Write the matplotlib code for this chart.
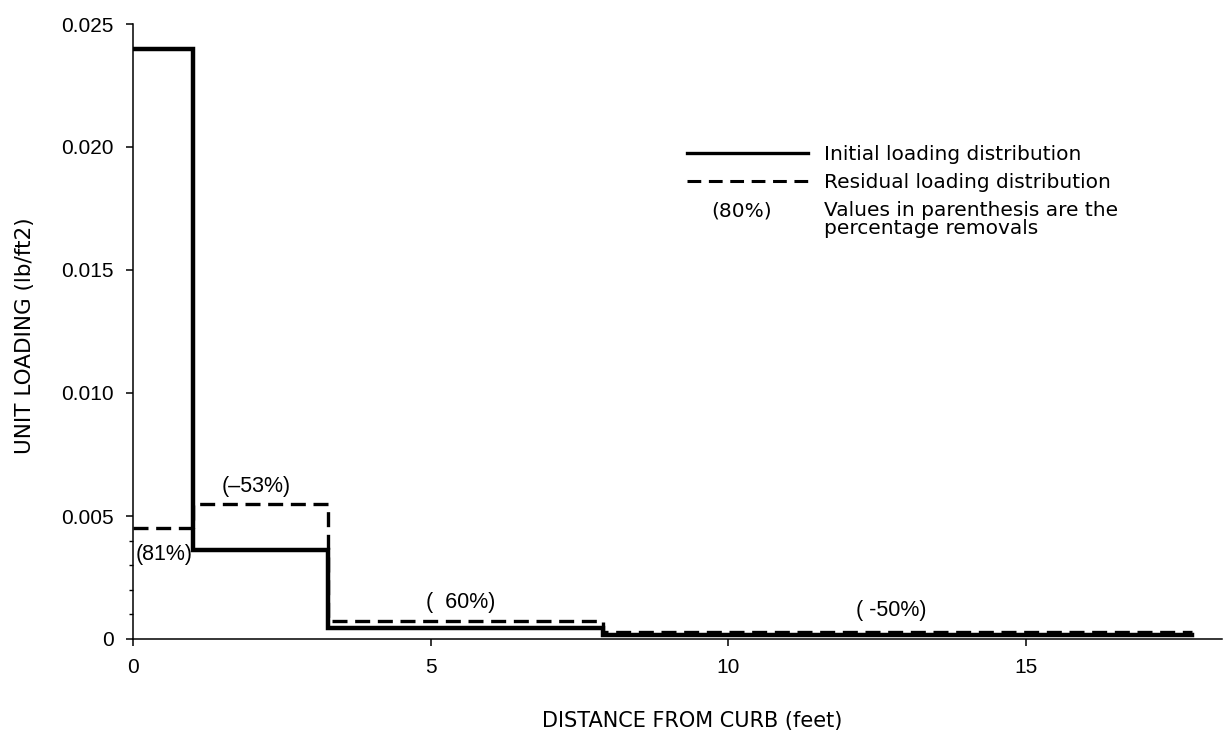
import matplotlib
matplotlib.use("Agg")
import matplotlib.pyplot as plt
from matplotlib.lines import Line2D

plt.rcParams['font.family'] = ['Liberation Sans', 'DejaVu Sans']

# Data
edges = [0.0, 1.0, 3.27, 7.9, 17.8]
initial = [0.024, 0.0036, 0.00045, 0.00015]
residual = [0.0045, 0.0055, 0.00072, 0.0003]
removal_labels = ['(81%)', '(\u201353%)', '(  60%)', '( -50%)']
xticks = [0, 5, 10, 15]
yticks = [0, 0.005, 0.010, 0.015, 0.020, 0.025]
ytick_labels = ['0', '0.005', '0.010', '0.015', '0.020', '0.025']

W, H = 1225, 731
fig = plt.figure(figsize=(W/100, H/100), dpi=100)
ax = fig.add_axes([133/W, 1-639/H, (1222-133)/W, (639-24)/H])

ax.step(edges, initial + [initial[-1]], where='post', color='black', lw=3.2,
        solid_joinstyle='miter')
ax.step(edges, residual + [residual[-1]], where='post', color='black', lw=2.4,
        linestyle=(0, (4.5, 2.3)))

ax.set_xlim(0, 18.3)
ax.set_ylim(0, 0.025)
for s in ['top', 'right']:
    ax.spines[s].set_visible(False)
for s in ['left', 'bottom']:
    ax.spines[s].set_linewidth(1.1)

ax.set_xticks(xticks)
ax.set_xticklabels([str(t) for t in xticks])
ax.set_yticks(yticks)
ax.set_yticklabels(ytick_labels)
ax.set_yticks([0.001, 0.002, 0.003, 0.004], minor=True)
ax.tick_params(axis='both', which='major', direction='out', length=5, width=1.1,
               labelsize=15)
ax.tick_params(axis='y', which='major', pad=9)
ax.tick_params(axis='x', which='major', pad=9)
ax.tick_params(axis='y', which='minor', direction='out', length=3, width=1)

# axis labels (wide-set lettering in the original -> DejaVu Sans)
fig.text(692/W, 1-721/H, 'DISTANCE FROM CURB (feet)', fontsize=15,
         family='DejaVu Sans', ha='center', va='center')
fig.text(25/W, 1-336/H, 'UNIT LOADING (lb/ft2)', fontsize=15.5,
         family='DejaVu Sans', ha='center', va='center', rotation=90)

# percentage annotations
ann_pos = [(0.04, 0.00345, 'left'), (2.07, 0.0062, 'center'),
           (5.5, 0.0015, 'center'), (12.75, 0.00115, 'center')]
for (x, y, ha), lab in zip(ann_pos, removal_labels):
    ax.text(x, y, lab, fontsize=15.5, ha=ha, va='center')

# Legend (manual)
fig.add_artist(Line2D([687/W, 808/W], [1-153/H, 1-153/H], color='black', lw=2.4))
fig.add_artist(Line2D([687/W, 808/W], [1-181/H, 1-181/H], color='black', lw=2.2,
                      linestyle=(0, (4.5, 2.5))))
lg = dict(fontsize=14.5, family='DejaVu Sans', va='center')
fig.text(824/W, 1-155/H, 'Initial loading distribution', **lg)
fig.text(824/W, 1-183/H, 'Residual loading distribution', **lg)
fig.text(742/W, 1-211/H, '(80%)', ha='center', **lg)
fig.text(824/W, 1-211/H, 'Values in parenthesis are the', **lg)
fig.text(824/W, 1-229/H, 'percentage removals', **lg)

fig.savefig('out.png', dpi=100)
